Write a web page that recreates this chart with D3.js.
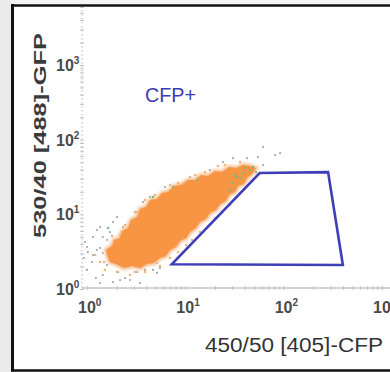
<!DOCTYPE html>
<html><head><meta charset="utf-8">
<script src="https://cdn.jsdelivr.net/npm/d3@7"></script>
<style>html,body{margin:0;padding:0;background:#fff;} svg{display:block;}</style>
</head><body>
<svg id="chart" width="390" height="372"></svg>
<script>
// Axis decades and their exponent labels
const decades = [1, 10, 100, 1000];
const exponents = ["0", "1", "2", "3"];

// Outline of the dense CFP/GFP population (x = CFP, y = GFP)
const cloudOutline = [
  [1.64, 2.60], [1.56, 3.33], [1.80, 3.77], [1.88, 4.53], [2.17, 4.82], [2.27, 5.97],
  [2.61, 6.56], [2.80, 8.39], [3.23, 9.20], [3.46, 11.8], [3.98, 12.5], [4.38, 15.5],
  [5.15, 16.0], [5.79, 19.3], [6.67, 19.9], [7.67, 23.9], [9.04, 24.7], [10.6, 28.8],
  [12.6, 28.8], [14.4, 33.6], [17.0, 32.6], [20.0, 38.0], [23.6, 36.8], [27.8, 43.0],
  [32.8, 41.7], [38.6, 45.7], [45.5, 44.3], [52.4, 41.7],
  [47.7, 34.7], [42.4, 30.6], [39.5, 25.5], [34.4, 23.9], [32.0, 19.9], [27.8, 18.1],
  [25.9, 15.1], [22.5, 13.7], [20.5, 11.4], [17.8, 10.4], [16.2, 8.65], [14.1, 7.89],
  [12.8, 6.56], [11.2, 5.79], [10.2, 4.82], [8.83, 4.39], [8.04, 3.65], [6.99, 3.33],
  [6.36, 2.77], [5.53, 2.60], [4.80, 2.23], [4.08, 2.16], [3.46, 1.91], [2.87, 2.03],
  [2.38, 1.91], [1.97, 2.16], [1.71, 2.30]
];

// Individual events outside the dense core
const grayEvents = [
  [1.02, 3.13], [1.60, 2.10], [1.00, 1.80], [1.45, 1.54], [2.02, 1.69], [2.44, 1.40],
  [1.36, 1.20], [1.84, 1.24], [3.46, 1.20], [5.15, 1.64], [1.36, 6.76], [1.71, 5.79],
  [1.15, 4.97], [1.60, 4.53], [1.26, 3.33], [2.02, 9.20], [1.00, 3.65], [1.15, 2.85],
  [1.12, 2.30], [2.17, 1.32], [3.23, 1.69], [3.89, 1.80], [5.53, 1.91], [24.2, 50.1],
  [30.6, 56.7], [42.4, 56.7], [54.9, 58.5], [61.7, 45.7], [81.8, 62.2], [91.9, 66.2],
  [61.7, 79.6], [3.71, 14.6], [3.23, 10.7], [2.32, 6.76], [1.84, 7.89], [1.45, 4.97],
  [1.26, 6.16], [1.45, 3.03], [5.15, 2.23], [0.954, 4.26], [1.36, 3.54], [0.932, 2.60],
  [1.23, 1.40], [2.74, 1.32], [4.38, 17.1], [6.22, 23.2], [11.2, 31.6], [17.8, 39.2],
  [4.69, 1.80]
];
const greenEvents = [
  [32.0, 33.6], [36.0, 30.6], [45.5, 39.2], [48.8, 43.0], [29.9, 26.2], [38.6, 35.7],
  [4.69, 17.1], [7.50, 23.2], [13.2, 28.8], [33.6, 31.6], [40.5, 41.7], [52.4, 36.8],
  [28.5, 21.2]
];
const tealEvents = [[1.64, 6.56], [2.17, 5.28]];
const fringeEvents = [
  [1.21, 2.85], [1.36, 2.30], [1.52, 1.80], [2.07, 1.69], [2.74, 1.54], [3.89, 1.69],
  [5.53, 2.03], [6.99, 2.60], [8.43, 3.13], [10.2, 3.88], [11.7, 4.53], [14.1, 5.79],
  [17.0, 6.97], [20.0, 8.92], [23.6, 10.7], [28.5, 13.3], [33.6, 17.1], [2.44, 7.19],
  [3.08, 10.7], [4.92, 18.1], [8.43, 26.2], [15.9, 36.8], [25.3, 45.7],
  [1.80, 5.12], [3.89, 15.5], [6.99, 24.7], [12.6, 33.6], [21.5, 44.3], [36.0, 50.1],
  [1.49, 2.30], [3.08, 1.69]
];

// CFP+ gate polygon
const gateVertices = [[7.3, 2.15], [57, 35.7], [283, 36.8], [400, 2.1]];
const gateName = "CFP+";
const xTitle = "450/50 [405]-CFP";
const yTitle = "530/40 [488]-GFP";

const svg = d3.select("#chart");
const x = d3.scaleLog().domain([1, 1000]).range([87, 382]);
const y = d3.scaleLog().domain([1, 1000]).range([289, 65]);

const defs = svg.append("defs");
defs.append("filter").attr("id", "soft").attr("x", "-10%").attr("y", "-10%")
  .attr("width", "120%").attr("height", "120%")
  .append("feGaussianBlur").attr("stdDeviation", 1.8);

// frame
svg.append("rect").attr("x", 0).attr("y", 0).attr("width", 390).attr("height", 372).attr("fill", "#fff");
svg.append("rect").attr("x", 0).attr("y", 0).attr("width", 11).attr("height", 372).attr("fill", "#ebebeb");
svg.append("rect").attr("x", 11).attr("y", 0).attr("width", 379).attr("height", 4).attr("fill", "#f3f3f3");

// axes
const axisColor = "#c4c4c4";
const xMinor = d3.scaleLog().domain([1, 1300]).ticks().filter(v => x(v) < 390);
const yMinor = d3.scaleLog().domain([1, 6000]).ticks().filter(v => y(v) > 6);

const gx = svg.append("g").attr("transform", "translate(0,288)")
  .call(d3.axisBottom(x).tickValues(xMinor).tickSize(3).tickFormat(() => ""));
gx.select(".domain").remove();
gx.selectAll("line").attr("stroke", axisColor).attr("y1", -2).attr("y2", 2);
svg.append("line").attr("x1", 82).attr("x2", 390).attr("y1", 288).attr("y2", 288)
  .attr("stroke", axisColor).attr("stroke-width", 1.5);

const gy = svg.append("g").attr("transform", "translate(82,0)")
  .call(d3.axisLeft(y).tickValues(yMinor).tickSize(3).tickFormat(() => ""));
gy.select(".domain").remove();
gy.selectAll("line").attr("stroke", axisColor).attr("x1", -2).attr("x2", 2);
svg.append("line").attr("x1", 82).attr("x2", 82).attr("y1", 6).attr("y2", 288)
  .attr("stroke", axisColor).attr("stroke-width", 1.2).attr("stroke-dasharray", "1.5 2.5");

// tick labels
const tickFont = "'Liberation Sans', Arial, sans-serif";
const xl = svg.append("g").selectAll("text").data(decades).join("text")
  .attr("x", d => x(d) - 9).attr("y", 313)
  .attr("font-family", tickFont).attr("font-weight", "bold").attr("font-size", 16)
  .attr("fill", "#4a4a4a");
xl.append("tspan").text("10");
xl.append("tspan").attr("font-size", 10).attr("dy", -7).text((d, i) => exponents[i]);

const yl = svg.append("g").selectAll("text").data(decades).join("text")
  .attr("x", 56).attr("y", d => y(d) + 6)
  .attr("font-family", tickFont).attr("font-weight", "bold").attr("font-size", 16)
  .attr("fill", "#4a4a4a");
yl.append("tspan").text("10");
yl.append("tspan").attr("font-size", 10).attr("dy", -7).text((d, i) => exponents[i]);

// events
const dots = svg.append("g");
const px = d => x(d[0]), py = d => y(d[1]);
dots.selectAll(".gray").data(grayEvents).join("circle").attr("class", "gray")
  .attr("cx", px).attr("cy", py).attr("r", 1.1).attr("fill", "#8d8d8d").attr("opacity", 0.8);
dots.selectAll(".teal").data(tealEvents).join("circle").attr("class", "teal")
  .attr("cx", px).attr("cy", py).attr("r", 1.2).attr("fill", "#6fa8c8");

// dense population: soft halo, then solid core
const cloudLine = d3.line().x(px).y(py).curve(d3.curveLinearClosed);
svg.append("path").attr("d", cloudLine(cloudOutline))
  .attr("fill", "#f7b27a").attr("stroke", "#f7be90").attr("stroke-width", 4)
  .attr("filter", "url(#soft)");
svg.append("path").attr("d", cloudLine(cloudOutline))
  .attr("fill", "#f6913d").attr("opacity", 0.9);

const fringe = svg.append("g");
fringe.selectAll("circle").data(fringeEvents).join("circle")
  .attr("cx", px).attr("cy", py).attr("r", 1.3).attr("fill", "#f2a565").attr("opacity", 0.85);
fringe.selectAll(".green").data(greenEvents).join("circle").attr("class", "green")
  .attr("cx", px).attr("cy", py).attr("r", 1.2).attr("fill", "#7cb870");

// gate
svg.append("path").attr("d", d3.line().x(px).y(py).curve(d3.curveLinearClosed)(gateVertices))
  .attr("fill", "none").attr("stroke", "#3e3eb8").attr("stroke-width", 2.6)
  .attr("stroke-linejoin", "miter");
svg.append("text").attr("x", 145).attr("y", 102).text(gateName)
  .attr("font-family", "'Liberation Sans', Arial, sans-serif").attr("font-size", 21)
  .attr("fill", "#3c3cb0").attr("textLength", 51).attr("lengthAdjust", "spacingAndGlyphs");

// axis titles
svg.append("text").attr("x", 205).attr("y", 352).text(xTitle)
  .attr("font-family", "'Liberation Sans', Arial, sans-serif").attr("font-size", 20)
  .attr("fill", "#333").attr("textLength", 178).attr("lengthAdjust", "spacingAndGlyphs");
svg.append("text").attr("transform", "translate(46,135.5) rotate(-90)")
  .attr("text-anchor", "middle").text(yTitle)
  .attr("font-family", "'Liberation Sans', Arial, sans-serif").attr("font-size", 17)
  .attr("font-weight", "bold").attr("fill", "#3a3a3a")
  .attr("textLength", 205).attr("lengthAdjust", "spacingAndGlyphs");

// border
const border = svg.append("g").attr("stroke", "#111").attr("fill", "none");
border.append("line").attr("x1", 11).attr("x2", 390).attr("y1", 5.5).attr("y2", 5.5).attr("stroke-width", 2.5);
border.append("line").attr("x1", 12.5).attr("x2", 12.5).attr("y1", 4).attr("y2", 371.5).attr("stroke-width", 3);
border.append("line").attr("x1", 11).attr("x2", 390).attr("y1", 370.5).attr("y2", 370.5).attr("stroke-width", 2.5);
</script>
</body></html>
